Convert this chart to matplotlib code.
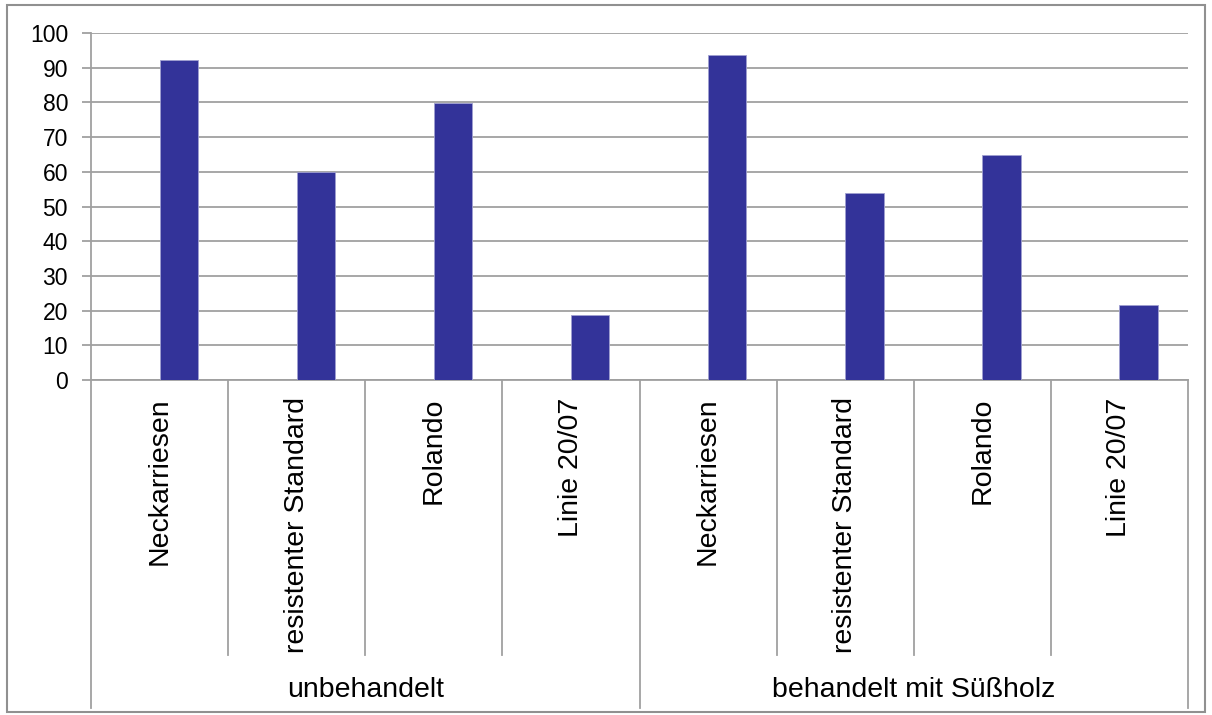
import numpy as np
import matplotlib.pyplot as plt
import matplotlib.transforms as mtransforms
from matplotlib.patches import Rectangle

plt.rcParams['font.family'] = ['Liberation Sans', 'DejaVu Sans']

# Data
groups = ['unbehandelt', 'behandelt mit Süßholz']
varieties = ['Neckarriesen', 'resistenter Standard', 'Rolando', 'Linie 20/07']
values_untreated = [92.3, 59.8, 79.8, 18.6]
values_treated = [93.8, 53.8, 64.8, 21.6]

values = values_untreated + values_treated
labels = varieties * len(groups)
x = np.arange(len(values))

grid_col = '#a0a0a0'
cat_fs = 20.5

fig = plt.figure(figsize=(12.12, 7.15), dpi=100)
ax = fig.add_axes([91/1212, 1 - 380/715, (1188 - 91)/1212, (380 - 33)/715])

# bars sit right of the category centre (empty first series slot)
ax.bar(x + 0.14, values, width=0.28, color='#333399', edgecolor='#a0a0d0', linewidth=0.6, zorder=3)

ax.set_xlim(-0.5, len(values) - 0.5)
ax.set_ylim(0, 100)
ax.set_yticks(np.arange(0, 101, 10))
ax.yaxis.grid(True, color=grid_col, linewidth=1.3)
ax.set_axisbelow(True)
for side in ['top', 'right']:
    ax.spines[side].set_visible(False)
for side in ['left', 'bottom']:
    ax.spines[side].set_color(grid_col)
    ax.spines[side].set_linewidth(1.3)
ax.tick_params(axis='y', length=6.5, width=1.3, color=grid_col, pad=10, labelsize=16.5)
ax.set_xticks([])

# Category labels and separators below the axis
trans = mtransforms.blended_transform_factory(ax.transData, ax.transAxes)
for xi, lab in zip(x, labels):
    ax.text(xi, -0.05, lab, rotation=90, ha='center', va='top', fontsize=cat_fs, transform=trans)

n_per_group = len(varieties)
for b in np.arange(len(values) + 1) - 0.5:
    is_group_edge = int(b + 0.5) % n_per_group == 0
    y_end = -0.945 if is_group_edge else -0.7925
    ax.plot([b, b], [0, y_end], color=grid_col, linewidth=1.3, transform=trans, clip_on=False)

for gi, g in enumerate(groups):
    center = gi * n_per_group + (n_per_group - 1) / 2
    ax.text(center, -0.893, g, ha='center', va='center', fontsize=cat_fs, transform=trans)

# Chart frame
fig.patches.append(Rectangle((7/1212, 3/715), 1198/1212, 707/715, transform=fig.transFigure,
                             fill=False, edgecolor='#909090', linewidth=1.5))

fig.savefig('out.png', dpi=100)
